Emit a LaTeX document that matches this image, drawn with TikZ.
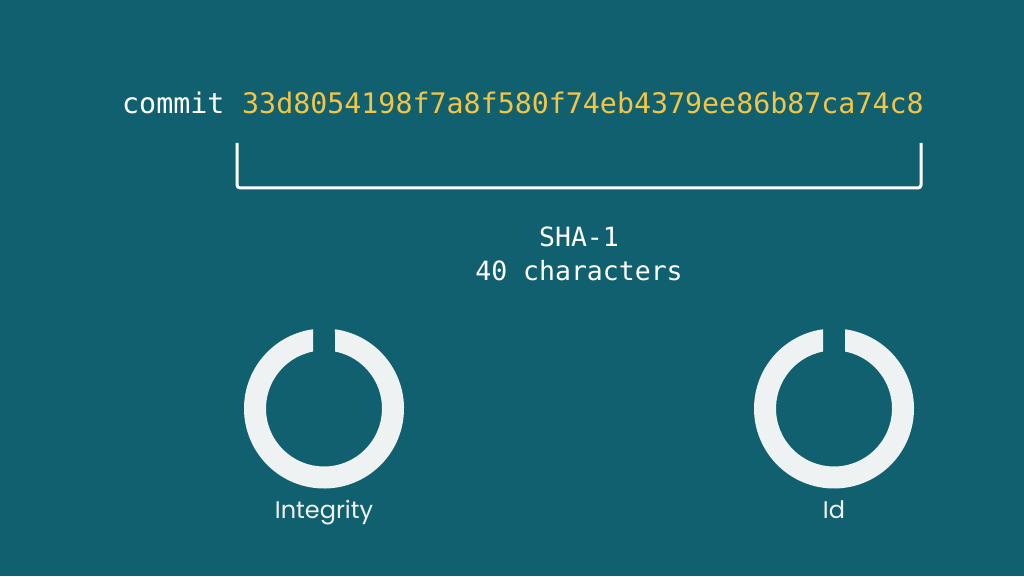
\documentclass[tikz,border=0pt]{standalone}
\usepackage{fontspec}
\newfontfamily\codefont{DejaVu Sans Mono}
\newfontfamily\labelfont{Poppins}
\definecolor{bg}{HTML}{11606F}
\definecolor{hash}{HTML}{F4C444}
\definecolor{ringc}{HTML}{EEF2F3}
\begin{document}
\begin{tikzpicture}[x=1pt,y=1pt,
  code/.style={inner sep=0pt,font=\codefont\fontsize{28.3}{32}\selectfont},
  info/.style={inner sep=0pt,font=\codefont\fontsize{26.5}{30}\selectfont,text=white},
  lab/.style={inner sep=0pt,font=\labelfont\fontsize{24}{28}\selectfont,text=ringc},
  ring/.style={fill=ringc}]
\fill[bg] (0,0) rectangle (1024,576);
\useasboundingbox (0,0) rectangle (1024,576);
% commit line
\node[code,text=white,anchor=base west] (commit) at (122,462) {commit};
\node[code,text=hash,anchor=base west] (sha) at (242,462) {33d8054198f7a8f580f74eb4379ee86b87ca74c8};
% bracket
\draw[white,line width=3pt,rounded corners=3pt] (237,433) -- (237,388) -- (921,388) -- (921,433);
% info
\node[info,anchor=base] (shalabel) at (579,329) {SHA-1};
\node[info,anchor=base] (chars) at (579,295) {40 characters};
% rings
\foreach \cx/\nm in {324/ringA,834/ringB}{
  \coordinate (\nm) at (\cx,167.5);
  \fill[ring] (\nm) ++(82.1:80pt) arc[start angle=82.1,end angle=-262.1,radius=80pt]
    -- ++(0,-22.29pt) arc[start angle=-259.07,end angle=79.07,radius=58pt] -- cycle;
}
\node[lab,anchor=base] (integrity) at (324,58) {Integrity};
\node[lab,anchor=base] (id) at (834,58) {Id};
\end{tikzpicture}
\end{document}
